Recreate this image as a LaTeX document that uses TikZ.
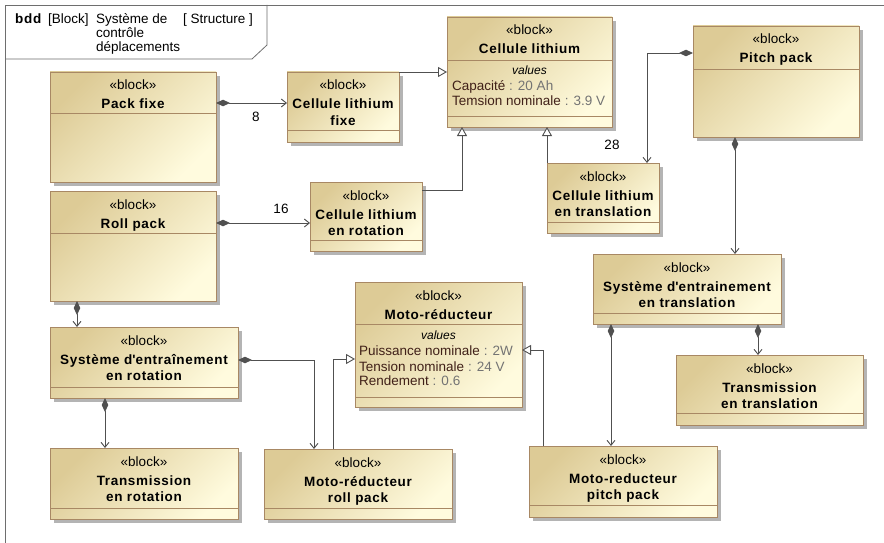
\documentclass[tikz,border=0pt]{standalone}
\usepackage{fontspec}
\setmainfont{Liberation Sans}[BoldFeatures={LetterSpace=5}]
\usetikzlibrary{arrows.meta}

\definecolor{blkdark}{RGB}{221,203,150}
\definecolor{blklight}{RGB}{255,251,222}
\definecolor{blkline}{RGB}{168,136,100}
\definecolor{shadowc}{RGB}{180,180,180}
\definecolor{linec}{RGB}{80,80,80}
\definecolor{framec}{RGB}{110,110,110}
\definecolor{propc}{RGB}{64,32,24}
\definecolor{valc}{RGB}{115,115,115}

\tikzset{
  blockbox/.style={anchor=north west, inner sep=0pt, outer sep=0pt,
    draw=blkline, line width=0.8pt,
    top color=blkdark, bottom color=blklight, shading angle=45},
  stereo/.style={anchor=base, inner sep=0pt},
  ttl/.style={anchor=base, inner sep=0pt, font=\fontsize{13.5}{16}\selectfont\bfseries},
  valhead/.style={anchor=base, inner sep=0pt, font=\fontsize{12}{14}\selectfont\itshape},
  prop/.style={anchor=base west, inner sep=0pt},
  mult/.style={inner sep=0pt},
  comp/.style={draw=linec, line width=0.9pt,
    arrows={Diamond[length=14pt,width=6.5pt,fill=linec]-Straight Barb[length=5pt,width=8pt]}},
  gen/.style={draw=linec, line width=0.9pt,
    arrows={-Triangle[open,length=9pt,width=10pt,fill=white]}},
}

% name, x1, y1, x2, y2, compartment lines, title line 1, title line 2
\newcommand\sysblock[8]{%
  \pgfmathsetmacro\bw{#4-#2}\pgfmathsetmacro\bh{#5-#3}%
  \fill[shadowc] (#2+4,#3+4) rectangle (#4+4,#5+4);
  \node[blockbox, minimum width=\bw pt, minimum height=\bh pt] (#1) at (#2,#3) {};
  \foreach \cy in {#6} {\draw[blkline, line width=0.8pt] (#2,\cy) -- (#4,\cy);}
  \node[stereo] at ([yshift=-18pt]#1.north) {«block»};
  \node[ttl] at ([yshift=-37pt]#1.north) {#7};
  \if\relax\detokenize{#8}\relax\else
    \node[ttl] at ([yshift=-53pt]#1.north) {#8};
  \fi
}
% property line: name and value
\newcommand\propline[2]{\textcolor{propc}{#1}\textcolor{valc}{\ : #2}}

\begin{document}
\begin{tikzpicture}[x=1pt, y=-1pt, font=\fontsize{13.5}{16}\selectfont]
\useasboundingbox[fill=white] (0,0) rectangle (884,543);

% diagram frame and its name tab
\draw[framec, line width=0.8pt] (5,543) -- (5,5) -- (884,5);
\draw[framec, line width=0.8pt] (267,5) -- (267,45) -- (252,59) -- (5,59);
\node[anchor=base west, inner sep=0pt] (hdr) at (15,24) {\textbf{bdd}};
\node[anchor=base west, inner sep=0pt] at (48,24) {[Block]};
\node[anchor=base west, inner sep=0pt] at (96,24) {Système de};
\node[anchor=base west, inner sep=0pt] at (96,38) {contrôle};
\node[anchor=base west, inner sep=0pt] at (96,52) {déplacements};
\node[anchor=base west, inner sep=0pt] at (183,24) {[ Structure ]};

% blocks
\sysblock{pf}{50}{72}{216}{182}{113}{Pack fixe}{}
\sysblock{clf}{287}{72}{399}{142}{130}{Cellule lithium}{fixe}
\sysblock{cl}{447}{17}{612}{127}{60,116}{Cellule lithium}{}
\sysblock{pp}{693}{26}{859}{137}{69}{Pitch pack}{}
\sysblock{rp}{50}{191}{216}{301}{233}{Roll pack}{}
\sysblock{clr}{310}{182}{422}{251}{240}{Cellule lithium}{en rotation}
\sysblock{clt}{547}{163}{659}{233}{222}{Cellule lithium}{en translation}
\sysblock{mr}{355}{282}{522}{407}{324,397}{Moto-réducteur}{}
\sysblock{ser}{50}{327}{238}{398}{387}{Système d\textquotesingle entraînement}{en rotation}
\sysblock{set}{593}{254}{781}{324}{313}{Système d\textquotesingle entrainement}{en translation}
\sysblock{tr}{50}{448}{238}{519}{508}{Transmission}{en rotation}
\sysblock{mrr}{264}{449}{452}{519}{508}{Moto-réducteur}{roll pack}
\sysblock{tt}{676}{355}{863}{425}{413}{Transmission}{en translation}
\sysblock{mrp}{529}{446}{717}{517}{505}{Moto-reducteur}{pitch pack}

% value properties
\node[valhead] at ([yshift=-58pt]cl.north) {values};
\node[prop] at (452,91) {\propline{Capacité}{20 Ah}};
\node[prop] at (452,106) {\propline{Temsion nominale}{3.9 V}};
\node[valhead] at ([yshift=-57pt]mr.north) {values};
\node[prop] at (359,355) {\propline{Puissance nominale}{2W}};
\node[prop] at (359,371) {\propline{Tension nominale}{24 V}};
\node[prop] at (359,385) {\propline{Rendement}{0.6}};

% composition associations
\draw[comp] (pf.east |- 0,103) -- (clf.west |- 0,103);
\node[mult] at (256,117) {8};
\draw[comp] (rp.east |- 0,223) -- (clr.west |- 0,223);
\node[mult] at (281,209) {16};
\draw[comp] (pp.west |- 0,53) -| (clt.north -| 647,0);
\node[mult] at (612,145) {28};
\draw[comp] (pp.south -| 735,0) -- (set.north -| 735,0);
\draw[comp] (rp.south -| 77,0) -- (ser.north -| 77,0);
\draw[comp] (ser.east |- 0,360) -| (mrr.north -| 314,0);
\draw[comp] (ser.south -| 105,0) -- (tr.north -| 105,0);
\draw[comp] (set.south -| 611,0) -- (mrp.north -| 611,0);
\draw[comp] (set.south -| 758,0) -- (tt.north -| 758,0);

% generalizations
\draw[gen] (clf.north east) -- (cl.west |- clf.north east);
\draw[gen] (clr.east |- 0,190) -| (cl.south -| 462,0);
\draw[gen] (clt.north west) -- (cl.south -| clt.north west);
\draw[gen] (mrr.north -| 333,0) |- (mr.west |- 0,359);
\draw[gen] (mrp.north -| 543,0) |- (mr.east |- 0,350);
\end{tikzpicture}
\end{document}
